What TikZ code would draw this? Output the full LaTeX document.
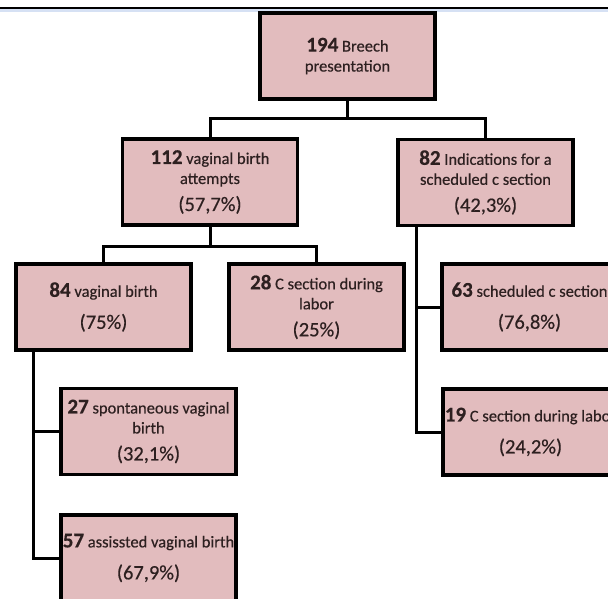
\documentclass[tikz,border=0pt]{standalone}
\usepackage{fontspec}
\setmainfont{Carlito}
\newfontfamily\boxfont[FakeBold=0.45]{Carlito}
\definecolor{boxfill}{RGB}{226,188,190}
\definecolor{txt}{RGB}{45,32,32}
\definecolor{rulebl}{RGB}{214,225,244}
\newcommand\numb[1]{{\fontsize{21}{20}\selectfont\bfseries #1}}
\newcommand\pct[1]{{\fontsize{20.5}{20}\selectfont #1}}
\begin{document}
\begin{tikzpicture}[x=1pt,y=-1pt,
  box/.style={draw=black, line width=3.5pt, fill=boxfill,
    minimum width=175pt, minimum height=86pt, inner sep=0pt,
    align=center, text=txt, font=\boxfont\fontsize{16.5}{20}\selectfont},
  link/.style={line width=3pt, draw=black}]
\useasboundingbox (0,0) rectangle (608,598);
\clip (0,0) rectangle (608,598);
\fill[black] (0,6.5) rectangle (608,9);
\fill[rulebl] (0,9) rectangle (608,11.5);

\node[box] (root) at (347.5,56) {\numb{194} Breech\\presentation};
\node[box] (att) at (210,182) {\numb{112} vaginal birth\\attempts\\[7pt]\pct{(57,7\%)}};
\node[box] (ind) at (485.5,182.5) {\numb{82} Indications for a\\scheduled c section\\[7pt]\pct{(42,3\%)}};
\node[box] (vb) at (103.5,307) {\numb{84} vaginal birth\\[12pt]\pct{(75\%)}};
\node[box] (cs) at (316.5,307) {\numb{28} C section during\\labor\\[7pt]\pct{(25\%)}};
\node[box] (sc) at (529.5,307) {\numb{63} scheduled c section\\[12pt]\pct{(76,8\%)}};
\node[box] (sp) at (148.5,431.5) {\numb{27} spontaneous vaginal\\birth\\[7pt]\pct{(32,1\%)}};
\node[box] (cl) at (530.5,432) {\numb{19} C section during labor\\[12pt]\pct{(24,2\%)}};
\node[box] (as) at (148.5,558) {\numb{57} assissted vaginal birth\\[12pt]\pct{(67,9\%)}};

\draw[link] (root.south) -- ++(0,18) coordinate (j1) -| (att.north);
\draw[link] (j1) -| (ind.north);
\draw[link] (att.south) -- ++(0,20) coordinate (j2) -| (vb.north);
\draw[link] (j2) -| (cs.north);
\draw[link] ([xshift=-69.5pt]ind.south) |- (sc.west);
\draw[link] ([xshift=-69.5pt]ind.south) |- (cl.west);
\draw[link] ([xshift=-70.5pt]vb.south) |- (sp.west);
\draw[link] ([xshift=-70.5pt]vb.south) |- (as.west);
\end{tikzpicture}
\end{document}
